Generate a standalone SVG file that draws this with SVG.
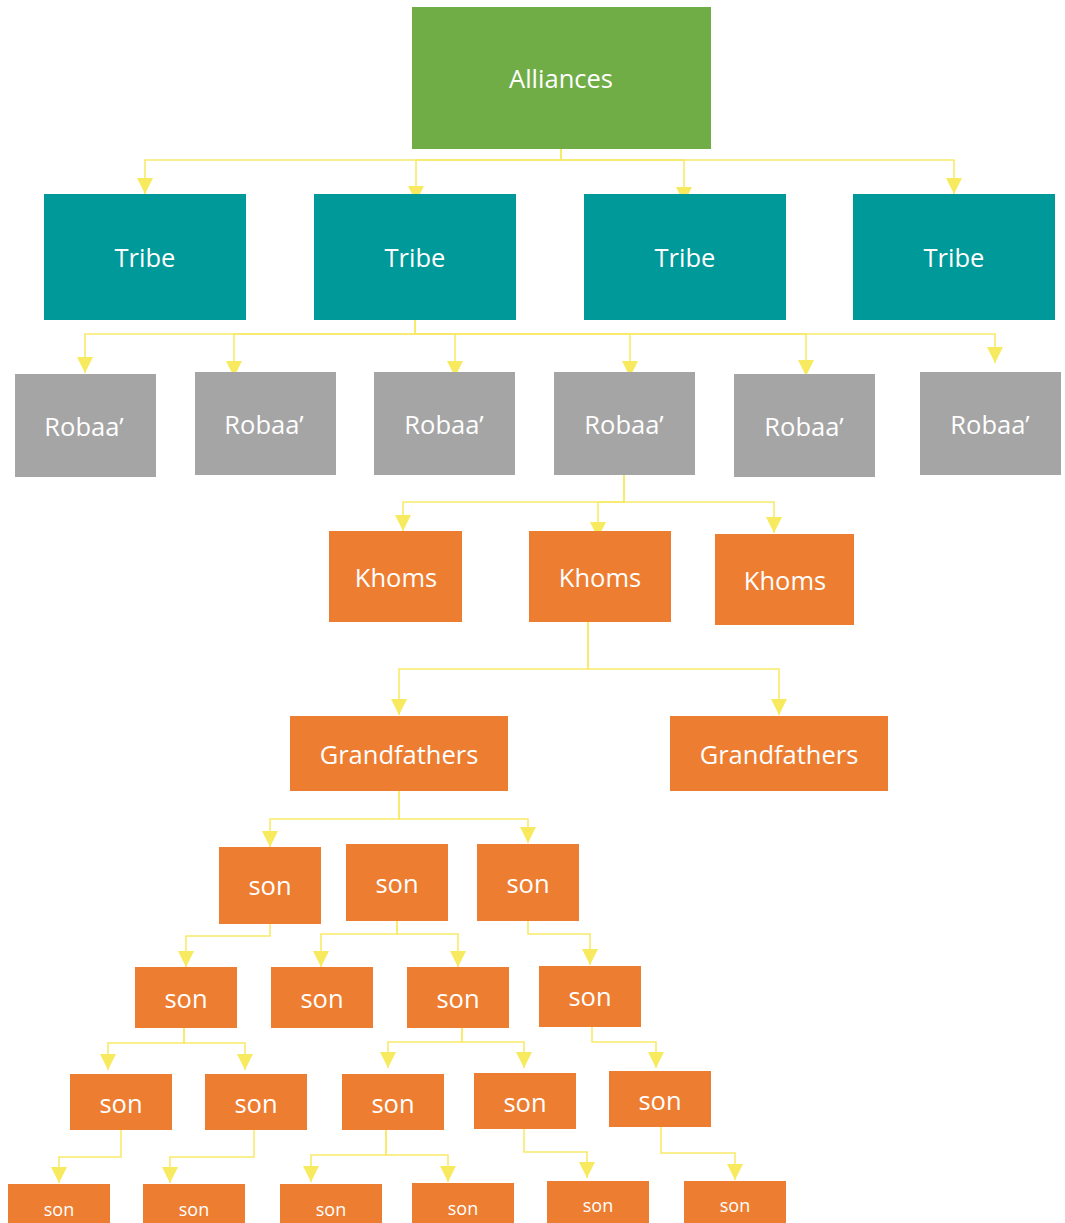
<svg xmlns="http://www.w3.org/2000/svg" width="1065" height="1223" viewBox="0 0 1065 1223">
<defs>
<marker id="arr" markerUnits="userSpaceOnUse" viewBox="0 0 16 16" refX="16" refY="8" markerWidth="16" markerHeight="16" orient="auto">
<path d="M0,0 L16,8 L0,16 z" fill="#F8EA5E"/>
</marker>
<style>
.c{fill:none;stroke:#F8EA6A;stroke-width:1.6;marker-end:url(#arr)}
.g{fill:#70AD47}
.t{fill:#009999}
.r{fill:#A5A5A5}
.o{fill:#ED7D31}
text{font-family:"Open Sans","Noto Sans","Liberation Sans",sans-serif;fill:#FFFFFF;text-anchor:middle;font-size:25.5px}
.s{font-size:18px}
</style>
</defs>
<rect width="1065" height="1223" fill="#FFFFFF"/>
<g id="connectors">
<path class="c" d="M561,149 V160 H145 V194"/>
<path class="c" d="M561,149 V160 H416 V202"/>
<path class="c" d="M561,149 V160 H684 V203"/>
<path class="c" d="M561,149 V160 H954 V194"/>
<path class="c" d="M415,320 V334 H85 V373"/>
<path class="c" d="M415,320 V334 H234 V377"/>
<path class="c" d="M415,320 V334 H455 V377"/>
<path class="c" d="M415,320 V334 H630 V377"/>
<path class="c" d="M415,320 V334 H806 V376"/>
<path class="c" d="M415,320 V334 H995 V363"/>
<path class="c" d="M624,475 V502 H403 V531"/>
<path class="c" d="M624,475 V502 H598 V538"/>
<path class="c" d="M624,475 V502 H774 V533"/>
<path class="c" d="M588,622 V669 H399 V715"/>
<path class="c" d="M588,622 V669 H779 V715"/>
<path class="c" d="M399,791 V819 H270 V847"/>
<path class="c" d="M399,791 V819 H528 V843"/>
<path class="c" d="M270,924 V936 H186 V967"/>
<path class="c" d="M397,921 V934 H321 V967"/>
<path class="c" d="M397,921 V934 H458 V967"/>
<path class="c" d="M528,921 V934 H590 V965"/>
<path class="c" d="M184,1028 V1043 H108 V1070"/>
<path class="c" d="M184,1028 V1043 H245 V1070"/>
<path class="c" d="M462,1028 V1042 H388 V1068"/>
<path class="c" d="M462,1028 V1042 H524 V1068"/>
<path class="c" d="M592,1027 V1042 H656 V1068"/>
<path class="c" d="M121,1130 V1157 H59 V1183"/>
<path class="c" d="M254,1130 V1157 H170 V1183"/>
<path class="c" d="M386,1130 V1155 H311 V1182"/>
<path class="c" d="M386,1130 V1155 H448 V1182"/>
<path class="c" d="M524,1129 V1152 H587 V1178"/>
<path class="c" d="M661,1127 V1153 H735 V1180"/>
</g>
<g id="alliances"><rect class="g" x="412" y="7" width="299" height="142"/><text x="561" y="88">Alliances</text></g>
<g id="tribe1"><rect class="t" x="44" y="194" width="202" height="126"/><text x="145" y="267">Tribe</text></g>
<g id="tribe2"><rect class="t" x="314" y="194" width="202" height="126"/><text x="415" y="267">Tribe</text></g>
<g id="tribe3"><rect class="t" x="584" y="194" width="202" height="126"/><text x="685" y="267">Tribe</text></g>
<g id="tribe4"><rect class="t" x="853" y="194" width="202" height="126"/><text x="954" y="267">Tribe</text></g>
<g id="robaa1"><rect class="r" x="15" y="374" width="141" height="103"/><text x="84" y="436">Robaa’</text></g>
<g id="robaa2"><rect class="r" x="195" y="372" width="141" height="103"/><text x="264" y="434">Robaa’</text></g>
<g id="robaa3"><rect class="r" x="374" y="372" width="141" height="103"/><text x="444" y="434">Robaa’</text></g>
<g id="robaa4"><rect class="r" x="554" y="372" width="141" height="103"/><text x="624" y="434">Robaa’</text></g>
<g id="robaa5"><rect class="r" x="734" y="374" width="141" height="103"/><text x="804" y="436">Robaa’</text></g>
<g id="robaa6"><rect class="r" x="920" y="372" width="141" height="103"/><text x="990" y="434">Robaa’</text></g>
<g id="khoms1"><rect class="o" x="329" y="531" width="133" height="91"/><text x="396" y="587">Khoms</text></g>
<g id="khoms2"><rect class="o" x="529" y="531" width="142" height="91"/><text x="600" y="587">Khoms</text></g>
<g id="khoms3"><rect class="o" x="715" y="534" width="139" height="91"/><text x="785" y="590">Khoms</text></g>
<g id="grandfathers1"><rect class="o" x="290" y="716" width="218" height="75"/><text x="399" y="764">Grandfathers</text></g>
<g id="grandfathers2"><rect class="o" x="670" y="716" width="218" height="75"/><text x="779" y="764">Grandfathers</text></g>
<g id="son-a"><rect class="o" x="219" y="847" width="102" height="77"/><text x="270" y="895">son</text></g>
<g id="son-b"><rect class="o" x="346" y="844" width="102" height="77"/><text x="397" y="893">son</text></g>
<g id="son-c"><rect class="o" x="477" y="844" width="102" height="77"/><text x="528" y="893">son</text></g>
<g id="son-d"><rect class="o" x="135" y="967" width="102" height="61"/><text x="186" y="1008">son</text></g>
<g id="son-e"><rect class="o" x="271" y="967" width="102" height="61"/><text x="322" y="1008">son</text></g>
<g id="son-f"><rect class="o" x="407" y="967" width="102" height="61"/><text x="458" y="1008">son</text></g>
<g id="son-g"><rect class="o" x="539" y="966" width="102" height="61"/><text x="590" y="1006">son</text></g>
<g id="son-h"><rect class="o" x="70" y="1074" width="102" height="56"/><text x="121" y="1113">son</text></g>
<g id="son-i"><rect class="o" x="205" y="1074" width="102" height="56"/><text x="256" y="1113">son</text></g>
<g id="son-j"><rect class="o" x="342" y="1074" width="102" height="56"/><text x="393" y="1113">son</text></g>
<g id="son-k"><rect class="o" x="474" y="1073" width="102" height="56"/><text x="525" y="1112">son</text></g>
<g id="son-l"><rect class="o" x="609" y="1071" width="102" height="56"/><text x="660" y="1110">son</text></g>
<g id="son-m"><rect class="o" x="8" y="1184" width="102" height="45"/><text class="s" x="59" y="1216">son</text></g>
<g id="son-n"><rect class="o" x="143" y="1184" width="102" height="45"/><text class="s" x="194" y="1216">son</text></g>
<g id="son-o"><rect class="o" x="280" y="1184" width="102" height="45"/><text class="s" x="331" y="1216">son</text></g>
<g id="son-p"><rect class="o" x="412" y="1183" width="102" height="45"/><text class="s" x="463" y="1215">son</text></g>
<g id="son-q"><rect class="o" x="547" y="1181" width="102" height="45"/><text class="s" x="598" y="1212">son</text></g>
<g id="son-r"><rect class="o" x="684" y="1181" width="102" height="45"/><text class="s" x="735" y="1212">son</text></g>
</svg>
